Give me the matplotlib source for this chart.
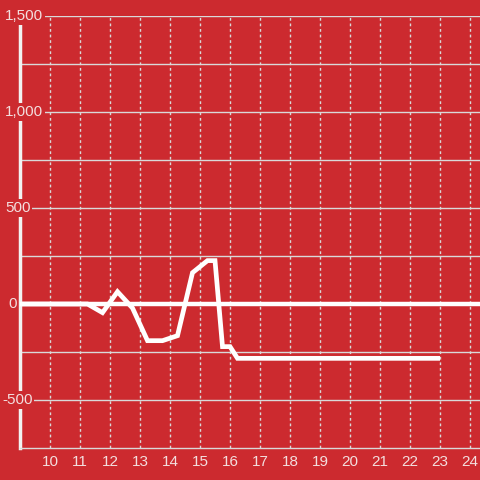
import matplotlib
matplotlib.use("Agg")
import matplotlib.pyplot as plt
import matplotlib.transforms as mtransforms

# Data (hour of day, value)
times = [9.0, 11.25, 11.75, 12.25, 12.75, 13.25, 13.75, 14.25, 14.75, 15.25, 15.5,
         15.75, 16.0, 16.25, 23.0]
values = [0, 0, -45, 64, -21, -191, -191, -165, 163, 226, 226, -222, -222, -283, -283]

x_ticks = list(range(10, 25))
y_major = [1500, 1000, 500, 0, -500]
y_major_labels = ["1,500", "1,000", "500", "0", "-500"]
y_minor = [1250, 750, 250, -250]

BG = "#cc2a2f"
TXT = "#f3dede"
GRID = "#d9d9d9"

plt.rcParams["font.family"] = ["Liberation Sans", "DejaVu Sans"]

fig = plt.figure(figsize=(4.8, 4.8), dpi=100, facecolor=BG)
ax = fig.add_axes([20 / 480, 32 / 480, 460 / 480, 432 / 480])
ax.set_facecolor(BG)
ax.set_xlim(9, 24 + 1 / 3)
ax.set_ylim(-750, 1500)

# vertical dashed grid
for xt in x_ticks:
    ax.axvline(xt, color=GRID, lw=1.0, ls=(0, (2, 2)), zorder=1)

# horizontal grid
for yv in y_minor + [1500, 1000, 500, -500]:
    ax.axhline(yv, color=GRID, lw=1.0, zorder=1)
ax.axhline(0, color="white", lw=3.2, zorder=2)

# line
ax.plot(times, values, color="white", lw=3.4, solid_capstyle="butt",
        solid_joinstyle="miter", zorder=4)

# spines
for s in ["top", "right"]:
    ax.spines[s].set_visible(False)
ax.spines["left"].set_color("#f2f2f2")
ax.spines["left"].set_linewidth(2.5)
ax.spines["left"].set_zorder(2.5)
ax.spines["bottom"].set_color(GRID)
ax.spines["bottom"].set_linewidth(1.0)

ax.set_yticks([])
ax.set_xticks(x_ticks)
ax.set_xticklabels([str(v) for v in x_ticks])
ax.tick_params(axis="x", length=0, pad=5, colors=TXT, labelsize=11)

# y labels overlaying the axis with background box
trans = mtransforms.blended_transform_factory(fig.transFigure, ax.transData)
lab_x = {"1,500": 5, "1,000": 5, "500": 5, "0": 8, "-500": 2}
for yv, lab in zip(y_major, y_major_labels):
    ax.text(lab_x[lab] / 480, yv, lab, transform=trans, ha="left", va="center",
            color=TXT, fontsize=11, zorder=6, clip_on=False,
            bbox=dict(boxstyle="square,pad=0.12", fc=BG, ec="none"))

fig.savefig("out.png", dpi=100, facecolor=BG)
